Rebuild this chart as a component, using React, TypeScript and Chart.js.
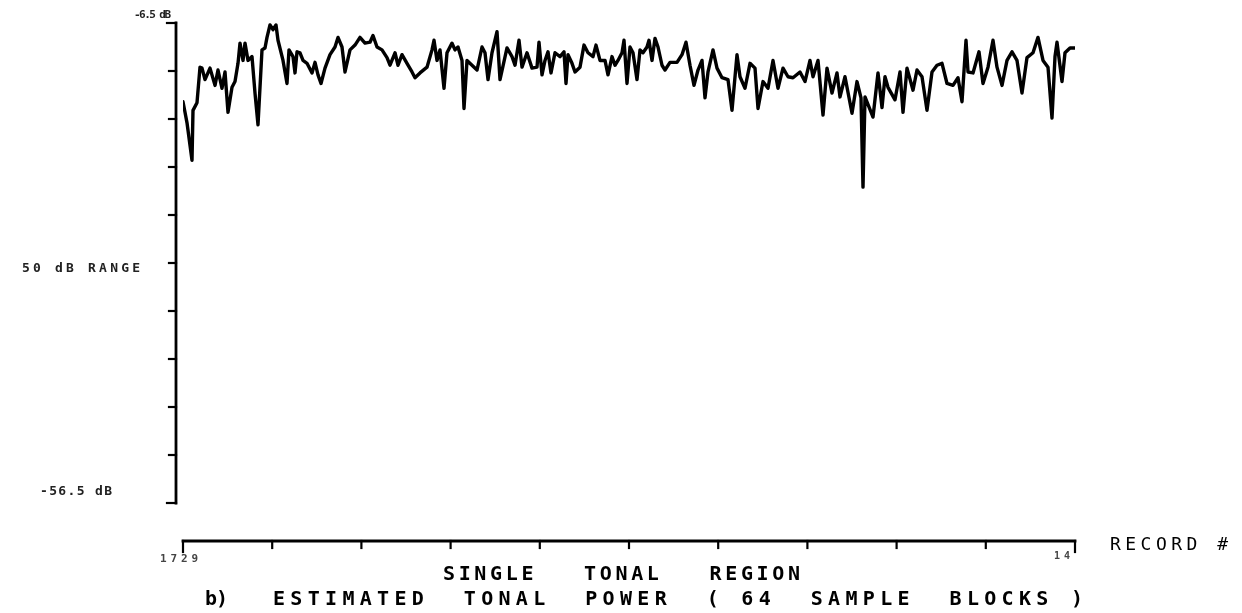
import { useEffect, useRef } from 'react';
import { Chart, registerables } from 'chart.js';

Chart.register(...registerables);

// Record numbers along the horizontal axis
const recordNumbers = [
  1729, 1733, 1738, 1739, 1743, 1746, 1748, 1751, 1756, 1761, 1764, 1768, 1771, 1774, 1778, 1781,
  1784, 1786, 1789, 1791, 1794, 1798, 1801, 1804, 1808, 1811, 1813, 1816, 1819, 1822, 1824, 1829,
  1833, 1835, 1839, 1841, 1843, 1846, 1849, 1853, 1858, 1861, 1864, 1867, 1871, 1876, 1881, 1884,
  1888, 1891, 1896, 1901, 1906, 1911, 1916, 1919, 1923, 1928, 1933, 1936, 1941, 1944, 1948, 1953,
  1958, 1961, 1966, 1973, 1978, 1980, 1983, 1986, 1990, 1993, 1998, 2001, 2004, 2008, 2010, 2013,
  2018, 2023, 2028, 2031, 2034, 2038, 2043, 2046,
  2053, 2058, 2061, 2065, 2068, 2073, 2078, 2083, 2085, 2088, 2091, 2094, 2097, 2101, 2106, 2110,
  2112, 2114, 2118, 2121, 2126, 2130, 2134, 2139, 2142, 2146, 2151, 2154, 2158, 2161, 2164, 2168,
  2170, 2173, 2176, 2179, 2183, 2186, 2189, 2193, 2195, 2198, 2201, 2204, 2208, 2211, 2216, 2223,
  2228, 2232, 2236, 2240, 2244, 2248, 2251, 2254, 2259, 2263, 2268, 2274, 2278, 2283, 2286, 2291,
  2296, 2301, 2304, 2309, 2314, 2319, 2324, 2329, 2334, 2339, 2346, 2351, 2356, 2359, 2364, 2369,
  2373, 2378, 2383, 2386, 2391, 2398, 2403,
  2407, 2409, 2411, 2419, 2424, 2428, 2431, 2434, 2441, 2446, 2449, 2453, 2459, 2463, 2468, 2473,
  2478, 2483, 2488, 2493, 2499, 2504, 2508, 2512, 2514, 2519, 2525, 2529, 2534, 2539, 2543, 2548,
  2553, 2558, 2563, 2568, 2573, 2579, 2584, 2589, 2594, 2598, 2601, 2603, 2608, 2611, 2616, 2621,
];

// Estimated tonal power per record, dB
const tonalPowerDb = [
  -14.7, -16.9, -20.8, -15.6, -14.8, -11.1, -11.2, -12.4, -11.2, -13.0, -11.4, -13.3, -11.6, -15.8, -13.2, -12.6,
  -10.7, -8.6, -10.4, -8.6, -10.4, -10.0, -13.8, -17.1, -9.3, -9.1, -8.0, -6.7, -7.2, -6.7, -8.3, -10.4,
  -12.8, -9.3, -10.0, -11.7, -9.5, -9.6, -10.4, -10.7, -11.7, -10.6, -11.9, -12.8, -11.2, -9.8, -9.0, -8.0,
  -9.0, -11.6, -9.3, -8.8, -8.0, -8.6, -8.5, -7.8, -9.0, -9.3, -10.1, -10.9, -9.6, -10.9, -9.8, -10.7,
  -11.6, -12.2, -11.7, -11.1, -9.3, -8.3, -10.4, -9.3, -13.3, -9.6, -8.6, -9.3, -9.0, -10.4, -15.4, -10.4,
  -10.9, -11.4, -9.0, -9.6, -12.4, -9.6, -7.4, -12.4,
  -9.1, -10.0, -10.9, -8.3, -11.1, -9.6, -11.2, -11.1, -8.5, -11.9, -10.4, -9.5, -11.7, -9.6, -10.0, -9.5,
  -12.8, -9.8, -10.7, -11.6, -11.1, -8.8, -9.6, -10.0, -8.8, -10.4, -10.4, -11.9, -10.0, -10.9, -10.4, -9.6,
  -8.3, -12.8, -9.0, -9.6, -12.4, -9.3, -9.6, -9.0, -8.3, -10.4, -8.1, -9.0, -10.9, -11.4, -10.6, -10.6,
  -9.8, -8.5, -10.9, -13.0, -11.4, -10.4, -14.3, -11.6, -9.3, -11.2, -12.2, -12.4, -15.6, -9.8, -12.1, -13.3,
  -10.7, -11.2, -15.4, -12.6, -13.3, -10.4, -13.3, -11.2, -12.1, -12.2, -11.6, -12.6, -10.4, -12.1, -10.4, -16.1,
  -11.2, -13.8, -11.7, -14.2, -12.1, -15.9, -12.6,
  -14.3, -23.6, -14.2, -16.3, -11.7, -15.3, -12.1, -13.2, -14.5, -11.6, -15.8, -11.2, -13.5, -11.4, -12.1, -15.6,
  -11.6, -10.9, -10.7, -12.8, -13.0, -12.2, -14.7, -8.3, -11.6, -11.7, -9.5, -12.8, -11.1, -8.3, -11.1, -13.0,
  -10.4, -9.5, -10.4, -13.8, -10.1, -9.6, -8.0, -10.4, -11.1, -16.4, -10.0, -8.5, -12.6, -9.6, -9.1, -9.1,
];

// Vertical scale: 50 dB range in 5 dB steps
const yTickValues = [-6.5, -11.5, -16.5, -21.5, -26.5, -31.5, -36.5, -41.5, -46.5, -51.5, -56.5];
const yLabelTexts = ['-6.5 dB', '50 dB RANGE', '-56.5 dB'];
const yLabelValues = [-6.5, -31.5, -56.5];

// Horizontal scale
const xTickCount = 10;
const xEndLabels = ['1729', '1 4'];
const xAxisTitle = 'RECORD #';

const titleLines = ['SINGLE   TONAL   REGION', 'ESTIMATED  TONAL  POWER  ( 64  SAMPLE  BLOCKS )'];
const panelTag = 'b)';

const FONT = '"DejaVu Sans Mono", "Liberation Mono", monospace';

// Draw text stretched with letter spacing so it spans [x0, x1]
function spacedText(
  ctx: CanvasRenderingContext2D,
  text: string,
  x0: number,
  x1: number,
  yMid: number,
  size: number,
  weight = 'bold',
  color = '#000'
) {
  ctx.save();
  ctx.font = `${weight} ${size}px ${FONT}`;
  ctx.fillStyle = color;
  ctx.textAlign = 'left';
  ctx.textBaseline = 'middle';
  (ctx as any).letterSpacing = '0px';
  const natural = ctx.measureText(text).width;
  const n = text.length;
  const ls = n > 1 ? (x1 - x0 - natural) / (n - 1) : 0;
  (ctx as any).letterSpacing = `${ls}px`;
  ctx.fillText(text, x0, yMid);
  ctx.restore();
}

const plotterAxes = {
  id: 'plotterAxes',
  afterDraw(chart: any) {
    const { ctx } = chart;
    const xs = chart.scales.x;
    const ys = chart.scales.y;
    ctx.save();
    ctx.strokeStyle = '#000';
    ctx.lineCap = 'square';

    // vertical axis, set just left of the trace
    const axisX = xs.left - 7;
    const yTop = ys.getPixelForValue(yTickValues[0]);
    const yBot = ys.getPixelForValue(yTickValues[yTickValues.length - 1]);
    ctx.lineWidth = 2.8;
    ctx.beginPath();
    ctx.moveTo(axisX, yTop);
    ctx.lineTo(axisX, yBot);
    ctx.stroke();
    ctx.lineWidth = 2.2;
    yTickValues.forEach((v, i) => {
      const py = ys.getPixelForValue(v);
      const len = i === 0 || i === yTickValues.length - 1 ? 9 : 7;
      ctx.beginPath();
      ctx.moveTo(axisX, py);
      ctx.lineTo(axisX - len, py);
      ctx.stroke();
    });

    // horizontal axis, set below the plot
    const axisY = ys.bottom + 38;
    const xMin = xs.min;
    const xMax = xs.max;
    ctx.lineWidth = 2.8;
    ctx.beginPath();
    ctx.moveTo(xs.getPixelForValue(xMin), axisY);
    ctx.lineTo(xs.getPixelForValue(xMax), axisY);
    ctx.stroke();
    ctx.lineWidth = 2.2;
    for (let i = 0; i <= xTickCount; i++) {
      const v = xMin + ((xMax - xMin) * i) / xTickCount;
      const px = xs.getPixelForValue(v);
      const len = i === 0 || i === xTickCount ? 11 : 7;
      ctx.beginPath();
      ctx.moveTo(px, axisY);
      ctx.lineTo(px, axisY + len);
      ctx.stroke();
    }
    ctx.restore();

    // vertical axis labels
    const yl0 = ys.getPixelForValue(yLabelValues[0]);
    const yl1 = ys.getPixelForValue(yLabelValues[1]);
    const yl2 = ys.getPixelForValue(yLabelValues[2]);
    spacedText(ctx, yLabelTexts[0], 134, 171, yl0 - 8, 11, 'bold', '#222');
    spacedText(ctx, yLabelTexts[1], 22, 140, yl1 + 6, 13, 'bold', '#222');
    spacedText(ctx, yLabelTexts[2], 40, 112, yl2 - 11, 13, 'bold', '#222');

    // horizontal axis labels
    spacedText(ctx, xEndLabels[0], 160, 198, axisY + 18, 11, 'bold', '#444');
    spacedText(ctx, xEndLabels[1], 1054, 1070, axisY + 15, 10, 'bold', '#444');
    spacedText(ctx, xAxisTitle, 1110, 1228, axisY + 4, 18, 'normal');

    // captions
    spacedText(ctx, titleLines[0], 443, 800, axisY + 34, 20, '600');
    spacedText(ctx, panelTag, 205, 228, axisY + 59, 20, '600');
    spacedText(ctx, titleLines[1], 273, 1083, axisY + 59, 20, '600');
  },
};

export default function App() {
  const canvasRef = useRef<HTMLCanvasElement | null>(null);

  useEffect(() => {
    if (!canvasRef.current) return;
    const chart = new Chart(canvasRef.current, {
      type: 'line',
      data: {
        datasets: [
          {
            data: recordNumbers.map((r, i) => ({ x: r, y: tonalPowerDb[i] })),
            borderColor: '#000',
            borderWidth: 3.4,
            pointRadius: 0,
            tension: 0,
            borderJoinStyle: 'round',
            borderCapStyle: 'round',
            fill: false,
          },
        ],
      },
      options: {
        responsive: false,
        animation: false,
        events: [],
        layout: { padding: { left: 183, right: 167, top: 23, bottom: 110 } },
        scales: {
          x: { type: 'linear', min: recordNumbers[0], max: recordNumbers[recordNumbers.length - 1], display: false },
          y: { type: 'linear', min: yTickValues[yTickValues.length - 1], max: yTickValues[0], display: false },
        },
        plugins: {
          legend: { display: false },
          tooltip: { enabled: false },
          title: { display: false },
        },
      },
      plugins: [plotterAxes],
    });
    return () => chart.destroy();
  }, []);

  return (
    <div style={{ position: 'absolute', left: 0, top: 0, width: 1242, height: 613, background: '#fff' }}>
      <canvas ref={canvasRef} width={1242} height={613} />
    </div>
  );
}
